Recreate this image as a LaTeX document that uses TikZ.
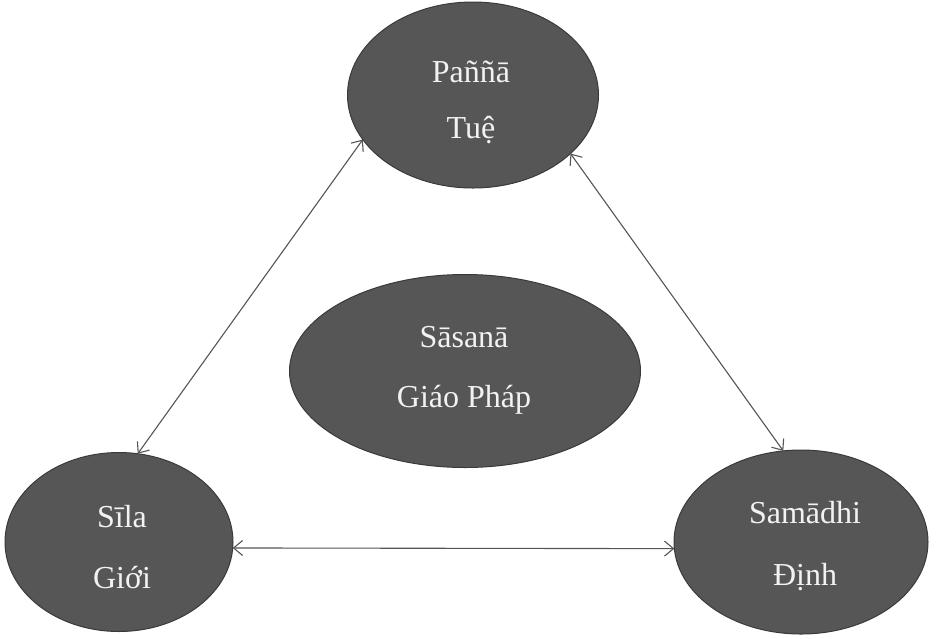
\documentclass[tikz,border=0pt]{standalone}
\usepackage{fontspec}
\setmainfont{Liberation Serif}
\usetikzlibrary{arrows.meta,shapes.geometric}
\definecolor{ellfill}{HTML}{565656}
\definecolor{elldraw}{HTML}{3A3A3A}
\definecolor{txtcol}{HTML}{F2F2F2}
\definecolor{linecol}{HTML}{555555}
\tikzset{
  ell/.style={ellipse, fill=ellfill, draw=elldraw, line width=1pt, inner sep=0pt, outer sep=0pt},
  lbl/.style={text=txtcol, align=center, inner sep=0pt, text height=22pt, text depth=7pt,
    font=\fontsize{32}{59}\selectfont},
  arr/.style={draw=linecol, line width=1.1pt, {Straight Barb[length=9pt,width=15pt]}-{Straight Barb[length=9pt,width=15pt]}}
}
\begin{document}
\begin{tikzpicture}[x=1pt,y=-1pt]
\useasboundingbox (0,0) rectangle (936,638);
\node[ell, minimum width=251pt, minimum height=186pt] (panna) at (473,95) {};
\node[ell, minimum width=351pt, minimum height=193pt] (sasana) at (465,371) {};
\node[ell, minimum width=228pt, minimum height=179pt] (sila) at (119,542) {};
\node[ell, minimum width=254pt, minimum height=184pt] (samadhi) at (801,542) {};
\node[lbl, font=\fontsize{32}{56}\selectfont] (pannaT) at (471,131) {Paññā\\Tuệ};
\node[lbl, font=\fontsize{32}{60}\selectfont] (sasanaT) at (464,400) {Sāsanā\\Giáo Pháp};
\node[lbl, font=\fontsize{32}{61}\selectfont] (silaT) at (122,581) {Sīla\\Giới};
\node[lbl, font=\fontsize{32}{62}\selectfont] (samadhiT) at (805,578) {Samādhi\\Định};
\draw[arr] (panna.202) -- (sila.78);
\draw[arr] (panna.-31) -- (samadhi.101);
\draw[arr] (sila.-3) -- (samadhi.183);
\end{tikzpicture}
\end{document}
